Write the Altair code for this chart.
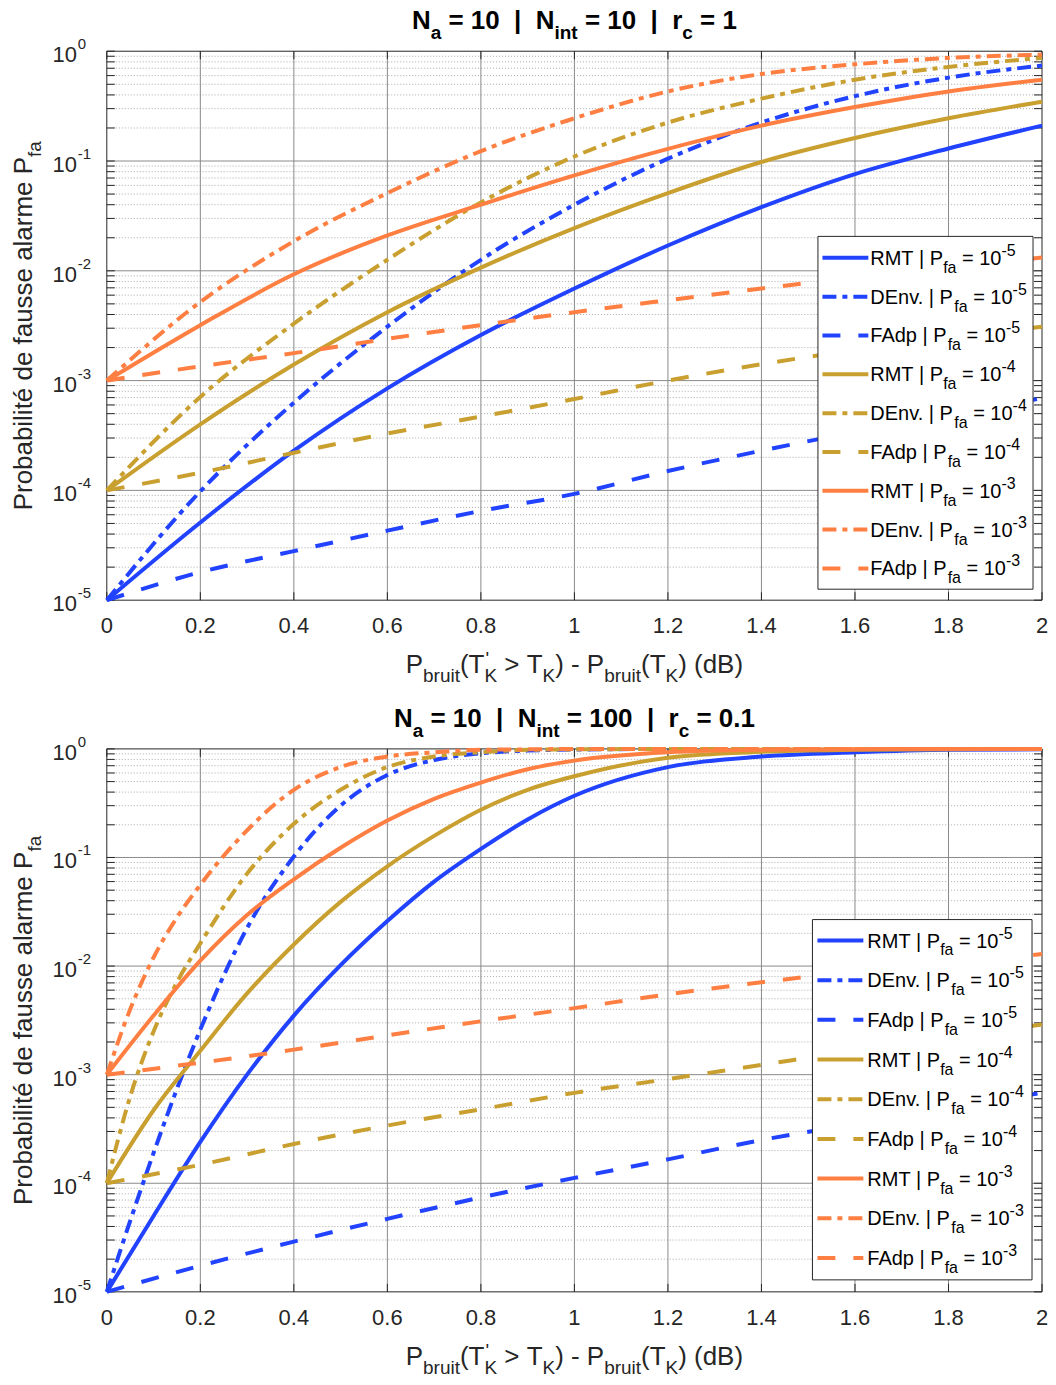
import altair as alt
import pandas as pd

# ------------------------------------------------------------------ data
X_TOP = [0.0, 0.2, 0.4, 0.6, 0.8, 1.0, 1.2, 1.4, 1.6, 1.8, 2.0]
TOP_RMT_5 = [1e-5, 5.1e-5, 2.3e-4, 8.5e-4, 2.6e-3, 6.9e-3, 1.7e-2, 3.8e-2, 7.6e-2, 1.3e-1, 2.1e-1]
TOP_DENV_5 = [1e-5, 9.8e-5, 6.3e-4, 3.1e-3, 1.26e-2, 4.0e-2, 1.05e-1, 2.24e-1, 3.9e-1, 5.75e-1, 7.4e-1]
TOP_FADP_5 = [1e-5, 1.8e-5, 2.8e-5, 4.3e-5, 6.5e-5, 9.3e-5, 1.5e-4, 2.3e-4, 3.4e-4, 4.9e-4, 6.9e-4]
TOP_RMT_4 = [1e-4, 4.0e-4, 1.4e-3, 4.2e-3, 1.07e-2, 2.45e-2, 5.1e-2, 9.8e-2, 1.62e-1, 2.45e-1, 3.47e-1]
TOP_DENV_4 = [1e-4, 7.1e-4, 3.3e-3, 1.26e-2, 4.2e-2, 1.1e-1, 2.24e-1, 3.7e-1, 5.5e-1, 7.2e-1, 8.7e-1]
TOP_FADP_4 = [1e-4, 1.45e-4, 2.2e-4, 3.3e-4, 4.7e-4, 6.8e-4, 1.0e-3, 1.41e-3, 1.9e-3, 2.45e-3, 3.1e-3]
TOP_RMT_3 = [1e-3, 3.2e-3, 9.3e-3, 2.1e-2, 4.0e-2, 7.4e-2, 1.29e-1, 2.1e-1, 3.1e-1, 4.3e-1, 5.5e-1]
TOP_DENV_3 = [1e-3, 5.2e-3, 1.86e-2, 5.1e-2, 1.23e-1, 2.45e-1, 4.3e-1, 6.2e-1, 7.6e-1, 8.7e-1, 9.3e-1]
TOP_FADP_3 = [1e-3, 1.35e-3, 1.78e-3, 2.4e-3, 3.2e-3, 4.2e-3, 5.4e-3, 6.9e-3, 8.7e-3, 1.07e-2, 1.32e-2]

X_BOT = [0.0, 0.1, 0.2, 0.3, 0.4, 0.5, 0.6, 0.7, 0.8, 0.9, 1.0, 1.2, 1.4, 1.6, 1.8, 2.0]
X_BOT_STEEP = [0.0, 0.05, 0.1, 0.15, 0.2, 0.3, 0.4, 0.5, 0.6, 0.7, 0.8, 0.9, 1.0, 1.2, 1.4, 1.6, 1.8, 2.0]
BOT_RMT_5 = [1e-5, 5.0e-5, 2.4e-4, 1.0e-3, 3.5e-3, 1.02e-2, 2.6e-2, 6.0e-2, 1.2e-1, 2.24e-1, 3.7e-1, 6.8e-1, 8.5e-1, 9.3e-1, 9.8e-1, 9.9e-1]
BOT_RMT_4 = [1e-4, 4.7e-4, 1.66e-3, 5.6e-3, 1.58e-2, 3.9e-2, 8.3e-2, 1.58e-1, 2.75e-1, 4.2e-1, 5.6e-1, 8.3e-1, 9.4e-1, 9.8e-1, 9.93e-1, 9.98e-1]
BOT_RMT_3 = [1e-3, 3.5e-3, 1.12e-2, 2.95e-2, 6.3e-2, 1.23e-1, 2.19e-1, 3.47e-1, 4.9e-1, 6.5e-1, 7.8e-1, 9.3e-1, 9.8e-1, 9.93e-1, 9.98e-1, 1.0]
BOT_DENV_5 = [1e-5, 4.5e-5, 1.9e-4, 7.4e-4, 2.6e-3, 2.24e-2, 1.02e-1, 3.0e-1, 5.75e-1, 7.9e-1, 9.1e-1, 9.65e-1, 9.86e-1, 9.98e-1, 1.0, 1.0, 1.0, 1.0]
BOT_DENV_4 = [1e-4, 6.3e-4, 2.5e-3, 7.1e-3, 1.62e-2, 7.1e-2, 2.04e-1, 4.2e-1, 6.8e-1, 8.5e-1, 9.3e-1, 9.8e-1, 9.9e-1, 9.98e-1, 1.0, 1.0, 1.0, 1.0]
BOT_DENV_3 = [1e-3, 4.0e-3, 1.2e-2, 2.8e-2, 5.6e-2, 1.78e-1, 4.2e-1, 6.8e-1, 8.5e-1, 9.3e-1, 9.8e-1, 9.9e-1, 9.98e-1, 1.0, 1.0, 1.0, 1.0, 1.0]
BOT_FADP_5 = [1e-5, 1.74e-5, 2.9e-5, 4.7e-5, 7.4e-5, 1.12e-4, 1.66e-4, 2.5e-4, 3.5e-4, 4.9e-4, 6.8e-4]
BOT_FADP_4 = [1e-4, 1.48e-4, 2.3e-4, 3.4e-4, 4.8e-4, 6.8e-4, 9.1e-4, 1.23e-3, 1.66e-3, 2.2e-3, 2.9e-3]
BOT_FADP_3 = [1e-3, 1.29e-3, 1.7e-3, 2.3e-3, 3.1e-3, 4.1e-3, 5.5e-3, 7.1e-3, 8.9e-3, 1.07e-2, 1.29e-2]

X_TICKS = [0.0, 0.2, 0.4, 0.6, 0.8, 1.0, 1.2, 1.4, 1.6, 1.8, 2.0]
X_TICK_LABELS = ["0", "0.2", "0.4", "0.6", "0.8", "1", "1.2", "1.4", "1.6", "1.8", "2"]
Y_DECADES = [1e-5, 1e-4, 1e-3, 1e-2, 1e-1, 1e0]
Y_EXPONENTS = ["-5", "-4", "-3", "-2", "-1", "0"]
Y_MINOR = [m * 10.0 ** k for k in range(-5, 0) for m in range(2, 10)]
METHODS = ["RMT", "DEnv.", "FAdp"]
PFA_EXPONENTS = ["-5", "-4", "-3"]

TITLE_TOP = [("N", "m"), ("a", "s"), (" = 10  |  N", "m"), ("int", "s"), (" = 10  |  r", "m"), ("c", "s"), (" = 1", "m")]
TITLE_BOT = [("N", "m"), ("a", "s"), (" = 10  |  N", "m"), ("int", "s"), (" = 100  |  r", "m"), ("c", "s"), (" = 0.1", "m")]
XLABEL = [("P", "m", 1), ("bruit", "s", 1), ("(T", "m", 1), ("'", "p", 0), ("K", "s", 1), (" > T", "m", 1),
          ("K", "s", 1), (") - P", "m", 1), ("bruit", "s", 1), ("(T", "m", 1), ("K", "s", 1), (") (dB)", "m", 1)]
YLABEL_MAIN = "Probabilité de fausse alarme P"
YLABEL_SUB = "fa"

# ------------------------------------------------------------------ style
OFF = 8
X0, X1 = 107 - OFF, 1044 - OFF
FONT = "Liberation Sans, Arial, Helvetica, sans-serif"
AX = "#262626"
GRID_MAJ = "#8a8a8a"
GRID_MIN = "#a0a0a0"
BLUE, GOLD, ORANGE = "#2142ff", "#c9a030", "#ff7f42"
LW = 4
DENV = [14, 6, 5, 6]
FADP = [18, 18]
TL = 8
NB = "\u00a0"

W_REG = {' ': 278, NB: 278, '(': 333, ')': 333, '-': 333, '.': 278, '=': 584, '>': 584, '|': 260, "'": 191,
         'A': 667, 'B': 667, 'D': 722, 'E': 667, 'F': 611, 'K': 667, 'M': 833, 'P': 667, 'R': 722, 'T': 611,
         'a': 556, 'b': 556, 'd': 556, 'e': 556, 'f': 278, 'i': 222, 'l': 222, 'm': 833, 'n': 556, 'o': 556,
         'p': 556, 'r': 333, 's': 500, 't': 278, 'u': 556, 'v': 500, 'é': 556}
W_BOLD = {' ': 278, NB: 278, '=': 584, '.': 278, '|': 280, 'N': 722, 'a': 556, 'c': 556, 'i': 278, 'n': 611,
          't': 333, 'r': 389}
for d in "0123456789":
    W_REG[d] = 556
    W_BOLD[d] = 556


def tw(s, size, bold=False):
    tab = W_BOLD if bold else W_REG
    return sum(tab.get(c, 556) for c in s) * size / 1000.0


def piece(t, x, y, size, bold=False):
    """Leading blanks are dropped by the renderer: shift x instead."""
    n = len(t) - len(t.lstrip(" "))
    x = x + tw(" " * n, size, bold)
    return (t.strip(" ").replace(" ", NB), x, y)


ONE = pd.DataFrame({"d": [0]})


def text_layer(rows, size, color, weight="normal", angle=0, align="left"):
    df = pd.DataFrame(rows, columns=["t", "x", "y"])
    return alt.Chart(df).mark_text(font=FONT, fontSize=size, color=color, fontWeight=weight, angle=angle,
                                   align=align, baseline="alphabetic").encode(
        x=alt.X("x:Q", scale=None, axis=None), y=alt.Y("y:Q", scale=None, axis=None), text="t:N")


def build_panel(top_pg, bot_pg, curves, title_pieces, leg):
    top, bot = top_pg - OFF, bot_pg - OFF
    xsc = alt.Scale(domain=[0, 2], range=[X0, X1], nice=False, zero=False)
    ysc = alt.Scale(type="log", domain=[1e-5, 1], range=[bot, top], nice=False)

    def X():
        return alt.X("x:Q", scale=xsc, axis=None)

    def Y():
        return alt.Y("p:Q", scale=ysc, axis=None)

    L = []
    # grid
    L.append(alt.Chart(pd.DataFrame({"p": Y_MINOR})).mark_rule(color=GRID_MIN, strokeWidth=0.9, strokeDash=[1, 2])
             .encode(y=Y(), x=alt.value(X0), x2=alt.value(X1)))
    L.append(alt.Chart(pd.DataFrame({"p": Y_DECADES[1:-1]})).mark_rule(color=GRID_MAJ, strokeWidth=1)
             .encode(y=Y(), x=alt.value(X0), x2=alt.value(X1)))
    L.append(alt.Chart(pd.DataFrame({"x": X_TICKS[1:-1]})).mark_rule(color=GRID_MAJ, strokeWidth=1)
             .encode(x=X(), y=alt.value(top), y2=alt.value(bot)))
    # inward ticks
    xt = pd.DataFrame({"x": X_TICKS})
    L.append(alt.Chart(xt).mark_rule(color=AX, strokeWidth=1).encode(x=X(), y=alt.value(bot), y2=alt.value(bot - TL)))
    L.append(alt.Chart(xt).mark_rule(color=AX, strokeWidth=1).encode(x=X(), y=alt.value(top), y2=alt.value(top + TL)))
    yt = pd.DataFrame({"p": Y_DECADES + Y_MINOR})
    L.append(alt.Chart(yt).mark_rule(color=AX, strokeWidth=1).encode(y=Y(), x=alt.value(X0), x2=alt.value(X0 + TL)))
    L.append(alt.Chart(yt).mark_rule(color=AX, strokeWidth=1).encode(y=Y(), x=alt.value(X1 - TL), x2=alt.value(X1)))
    # box
    L.append(alt.Chart(ONE).mark_rect(fillOpacity=0, stroke=AX, strokeWidth=1)
             .encode(x=alt.value(X0), x2=alt.value(X1), y=alt.value(top), y2=alt.value(bot)))
    # curves
    for xs_, ps_, color, dash in curves:
        kw = dict(color=color, strokeWidth=LW, interpolate="monotone")
        if dash:
            kw["strokeDash"] = dash
        L.append(alt.Chart(pd.DataFrame({"x": xs_, "p": ps_})).mark_line(**kw).encode(x=X(), y=Y()))
    # legend
    bx0, bx1, by0, by1 = [v - OFF for v in leg["box"]]
    L.append(alt.Chart(ONE).mark_rect(fill="white", stroke=AX, strokeWidth=1)
             .encode(x=alt.value(bx0), x2=alt.value(bx1), y=alt.value(by0), y2=alt.value(by1)))
    colors = [BLUE] * 3 + [GOLD] * 3 + [ORANGE] * 3
    dashes = [None, DENV, FADP] * 3
    main_rows, sub_rows, sup_rows = [], [], []
    tx = leg["text_x"] - OFF
    for i in range(9):
        cy = leg["row0"] + i * leg["step"] - OFF
        kw = dict(color=colors[i], strokeWidth=LW)
        if dashes[i]:
            kw["strokeDash"] = dashes[i]
        L.append(alt.Chart(ONE).mark_rule(**kw).encode(
            x=alt.value(leg["s0"] - OFF), x2=alt.value(leg["s1"] - OFF), y=alt.value(cy)))
        m1 = METHODS[i % 3] + " | P"
        m2 = " = 10"
        a = tx + tw(m1, 20)
        b = a + tw("fa", 16)
        c = b + tw(m2, 20)
        main_rows += [piece(m1, tx, cy + 7, 20), piece(m2, b, cy + 7, 20)]
        sub_rows.append(("fa", a, cy + 15))
        sup_rows.append((PFA_EXPONENTS[i // 3], c, cy - 2))
    L.append(text_layer(main_rows, 20, "#000000"))
    L.append(text_layer(sub_rows, 16, "#000000"))
    L.append(text_layer(sup_rows, 16, "#000000"))
    # tick labels
    L.append(alt.Chart(pd.DataFrame({"x": X_TICKS, "t": X_TICK_LABELS})).mark_text(
        font=FONT, fontSize=22, color=AX, align="center", baseline="alphabetic")
        .encode(x=X(), y=alt.value(bot + 33), text="t:N"))
    L.append(alt.Chart(pd.DataFrame({"p": Y_DECADES})).mark_text(
        font=FONT, fontSize=22, color=AX, align="right", baseline="alphabetic", dy=11, text="10")
        .encode(y=Y(), x=alt.value(77 - OFF)))
    L.append(alt.Chart(pd.DataFrame({"p": Y_DECADES, "t": Y_EXPONENTS})).mark_text(
        font=FONT, fontSize=15, color=AX, align="left", baseline="alphabetic", dy=-2)
        .encode(y=Y(), x=alt.value(78 - OFF), text="t:N"))
    # title
    cx = (X0 + X1) / 2
    sizes = {"m": 26, "s": 19}
    total = sum(tw(t, sizes[k], True) for t, k in title_pieces)
    x = cx - total / 2
    tm, ts = [], []
    base = top - 22
    for t, k in title_pieces:
        if k == "m":
            tm.append(piece(t, x, base, 26, True))
        else:
            ts.append(piece(t, x, base + 10, 19, True))
        x += tw(t, sizes[k], True)
    L.append(text_layer(tm, 26, "#000000", weight="bold"))
    L.append(text_layer(ts, 19, "#000000", weight="bold"))
    # x label
    sizes = {"m": 26, "s": 19, "p": 19}
    total = sum(tw(t, sizes[k]) for t, k, adv in XLABEL if adv)
    x = cx - total / 2
    base = bot + 73
    xm, xs_, xp = [], [], []
    for t, k, adv in XLABEL:
        if k == "m":
            xm.append(piece(t, x, base, 26))
        elif k == "s":
            xs_.append(piece(t, x, base + 9, 19))
        else:
            xp.append(piece(t, x + 1, base - 8, 19))
        if adv:
            x += tw(t, sizes[k])
    L.append(text_layer(xm, 26, AX))
    L.append(text_layer(xs_, 19, AX))
    L.append(text_layer(xp, 19, AX))
    # y label (rotated)
    wm = tw(YLABEL_MAIN, 26)
    total = wm + tw(YLABEL_SUB, 19)
    cyl = (top + bot) / 2
    y0 = cyl + total / 2
    L.append(text_layer([(YLABEL_MAIN.replace(" ", NB), 32 - OFF, y0)], 26, AX, angle=270))
    L.append(text_layer([(YLABEL_SUB, 41 - OFF, y0 - wm)], 19, AX, angle=270))
    return L


top_curves = [
    (X_TOP, TOP_RMT_5, BLUE, None), (X_TOP, TOP_DENV_5, BLUE, DENV), (X_TOP, TOP_FADP_5, BLUE, FADP),
    (X_TOP, TOP_RMT_4, GOLD, None), (X_TOP, TOP_DENV_4, GOLD, DENV), (X_TOP, TOP_FADP_4, GOLD, FADP),
    (X_TOP, TOP_RMT_3, ORANGE, None), (X_TOP, TOP_DENV_3, ORANGE, DENV), (X_TOP, TOP_FADP_3, ORANGE, FADP),
]
bot_curves = [
    (X_BOT, BOT_RMT_5, BLUE, None), (X_BOT_STEEP, BOT_DENV_5, BLUE, DENV), (X_TOP, BOT_FADP_5, BLUE, FADP),
    (X_BOT, BOT_RMT_4, GOLD, None), (X_BOT_STEEP, BOT_DENV_4, GOLD, DENV), (X_TOP, BOT_FADP_4, GOLD, FADP),
    (X_BOT, BOT_RMT_3, ORANGE, None), (X_BOT_STEEP, BOT_DENV_3, ORANGE, DENV), (X_TOP, BOT_FADP_3, ORANGE, FADP),
]

leg_top = dict(box=(819.5, 1035, 235.5, 589), row0=257, step=38.9, s0=824, s1=870, text_x=872)
leg_bot = dict(box=(814, 1034, 920, 1281), row0=941, step=39.75, s0=819, s1=865, text_x=869)

layers = build_panel(50, 600, top_curves, TITLE_TOP, leg_top) + build_panel(749, 1293, bot_curves, TITLE_BOT, leg_bot)

chart = alt.layer(*layers).resolve_scale(x="independent", y="independent").properties(
    width=1042, height=1369, autosize=alt.AutoSizeParams(type="none"), padding=0,
    background="white").configure_view(strokeWidth=0)

chart.save("out.html", embed_options={"renderer": "svg", "actions": False})
